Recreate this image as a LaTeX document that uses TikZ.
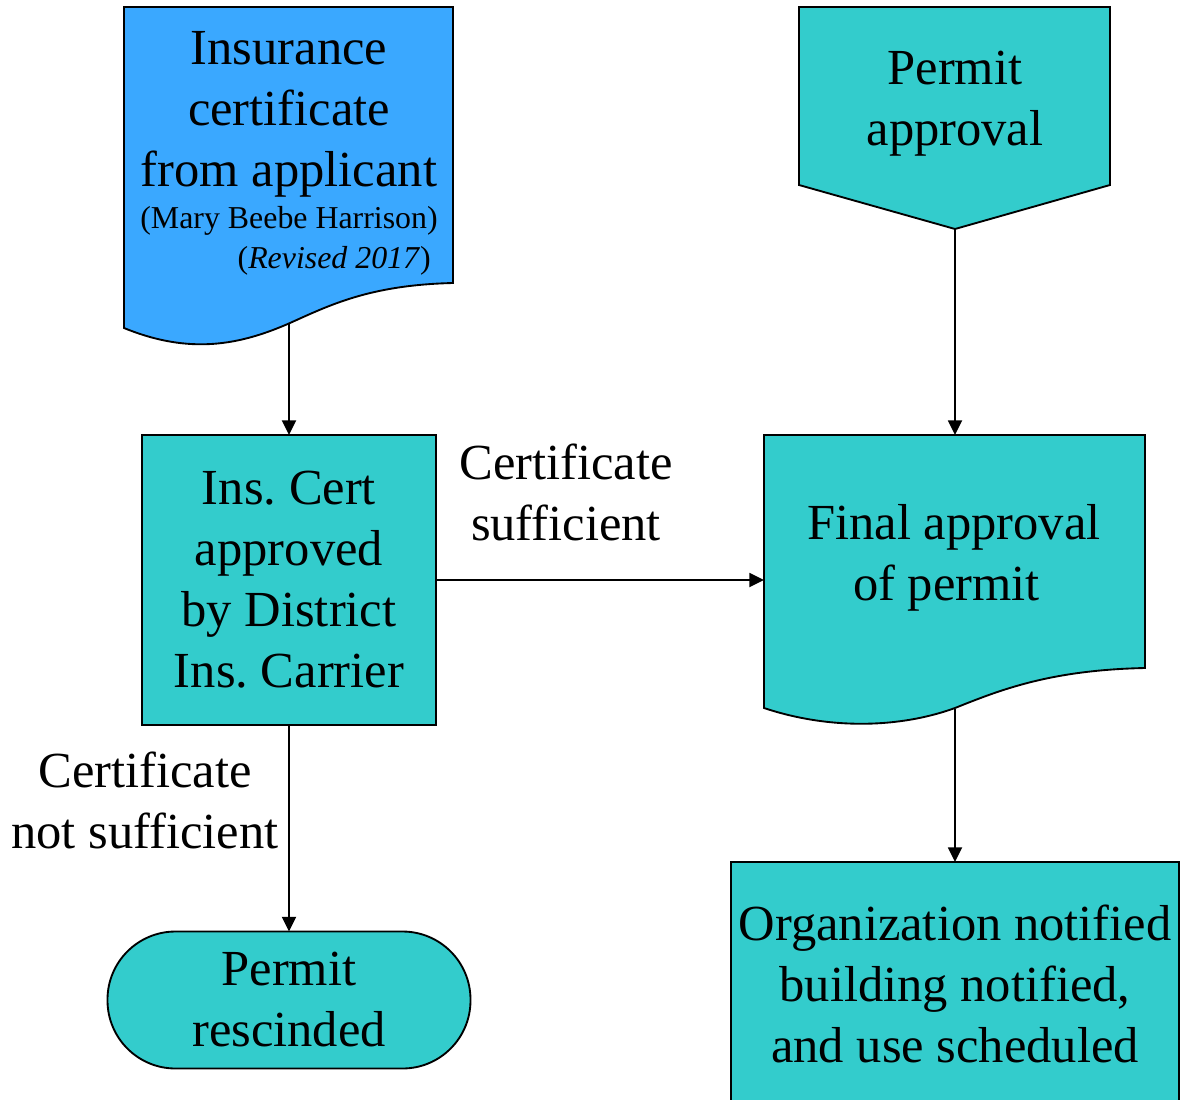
\documentclass[tikz,border=0pt]{standalone}
\usepackage{fontspec}
\setmainfont{Liberation Serif}
\usetikzlibrary{arrows.meta}
\definecolor{docblue}{RGB}{58,168,255}
\definecolor{boxteal}{RGB}{51,204,204}
\newcommand{\bigtxt}{\fontsize{37.9}{45.75}\selectfont}
\newcommand{\smalltxt}{\fontsize{23.9}{29}\selectfont}
\frenchspacing
\begin{document}
\begin{tikzpicture}[x=0.75pt,y=-0.75pt,
		txt/.style={align=center,font=\bigtxt,inner sep=0pt},
		box/.style={draw,line width=1.4pt,fill=boxteal,inner sep=0pt,outer sep=0pt},
		arr/.style={-{Triangle[length=11pt,width=10.5pt]},line width=1.4pt}]
	\useasboundingbox (0,0) rectangle (1181,1099);

	% document and off-page shapes
	\draw[line width=1.4pt,fill=docblue] (124,7) -- (453,7) -- (453,283)
		.. controls (370,285) and (330,305) .. (290,323)
		.. controls (240,345) and (190,355) .. (124,328) -- cycle;
	\draw[line width=1.4pt,fill=boxteal] (799,7) -- (1110,7) -- (1110,185) -- (955,229) -- (799,185) -- cycle;
	\draw[line width=1.4pt,fill=boxteal] (764,435) -- (1145,435) -- (1145,668)
		.. controls (1050,670) and (1000,690) .. (955,708)
		.. controls (900,728) and (830,730) .. (764,708) -- cycle;

	\coordinate (ins-s) at (289,323);
	\coordinate (apprv-s) at (955,229);
	\coordinate (final-n) at (955,435);
	\coordinate (final-w) at (764,580);
	\coordinate (final-s) at (955,709);

	\node[txt] (ins) at (289,114) {Insurance\\certificate\\from applicant};
	\node[font=\smalltxt,inner sep=0pt,anchor=base] (insname) at (289,228) {(Mary Beebe Harrison)};
	\node[font=\smalltxt,inner sep=0pt,anchor=base east] (insrev) at (431,268) {(\textit{Revised 2017})};
	\node[txt] (apprv) at (955,104) {Permit\\approval};
	\node[txt] (final) at (954,558) {Final approval\\of permit\hspace*{0.3em}};

	\node[box,txt,minimum width=220.5pt,minimum height=217.5pt] (cert) at (289,580) {Ins. Cert\\approved\\by District\\Ins. Carrier};
	\node[box,txt,rounded corners=51pt,minimum width=272.25pt,minimum height=102.75pt] (rescind) at (289,1000) {Permit\\rescinded};
	\node[box,txt,minimum width=336pt,minimum height=183pt] (notify) at (955,984) {Organization notified\\building notified,\\and use scheduled};

	\node[txt] (suff) at (566,492) {Certificate\\sufficient};
	\node[txt] (notsuff) at (145,800) {Certificate\\not sufficient};

	\path [arr] (ins-s) edge (cert);
	\path [arr] (apprv-s) edge (final-n);
	\path [arr] (cert) edge (final-w);
	\path [arr] (cert) edge (rescind);
	\path [arr] (final-s) edge (notify);
\end{tikzpicture}
\end{document}
